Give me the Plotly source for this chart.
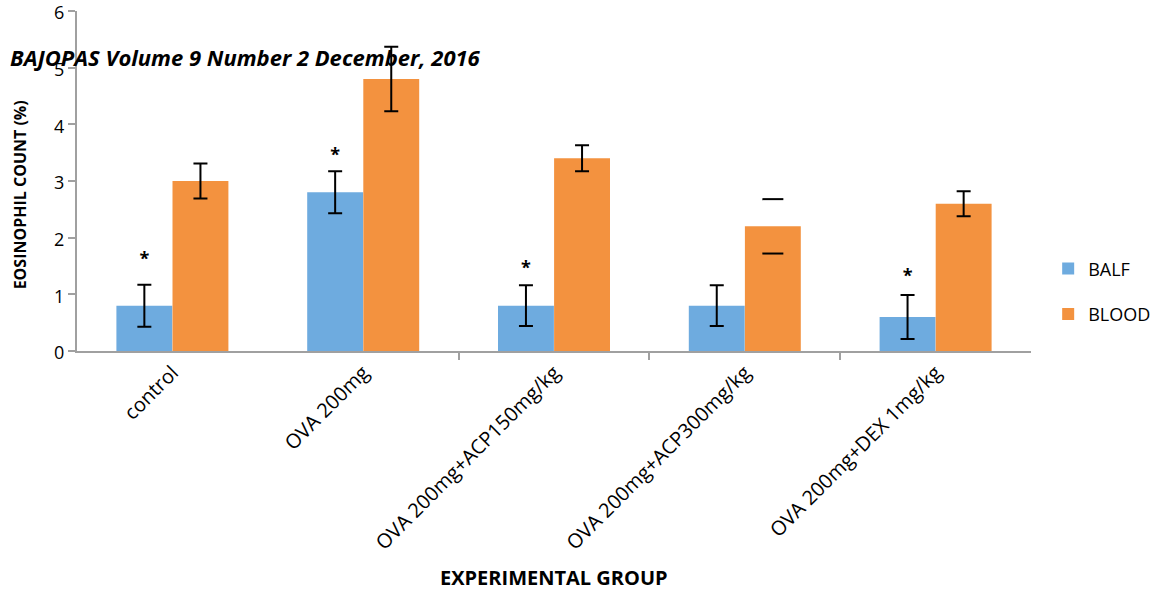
import plotly.graph_objects as go
import numpy as np

categories = ["control", "OVA 200mg", "OVA 200mg+ACP150mg/kg", "OVA 200mg+ACP300mg/kg", "OVA 200mg+DEX 1mg/kg"]
balf = [0.8, 2.8, 0.8, 0.8, 0.6]
balf_err = [0.37, 0.37, 0.36, 0.36, 0.39]
blood = [3.0, 4.8, 3.4, 2.2, 2.6]
blood_err = [0.31, 0.57, 0.23, 0.48, 0.22]
blood_stem_shown = [True, True, True, False, True]
asterisk_y = [1.6, 3.44, 1.43, None, 1.30]
y_ticks = [0, 1, 2, 3, 4, 5, 6]

BLUE = "#6EABDF"
ORANGE = "#F3923F"
FONT = "Open Sans"
idx = np.arange(len(categories))
off = 0.147
w = 0.293

fig = go.Figure()
fig.add_trace(go.Bar(
    x=idx - off, y=balf, width=w, name="BALF", marker=dict(color=BLUE, line=dict(width=0)),
    error_y=dict(type="data", array=balf_err, color="black", thickness=2, width=7),
    legendgroup="a"))
fig.add_trace(go.Bar(
    x=idx + off, y=blood, width=w, name="BLOOD", marker=dict(color=ORANGE, line=dict(width=0)),
    legendgroup="b"))

# BLOOD error bars (with stems)
sx = [i + off for i, s in zip(idx, blood_stem_shown) if s]
sy = [v for v, s in zip(blood, blood_stem_shown) if s]
se = [e for e, s in zip(blood_err, blood_stem_shown) if s]
fig.add_trace(go.Scatter(
    x=sx, y=sy, mode="markers", marker=dict(size=0.1, color="rgba(0,0,0,0)"),
    error_y=dict(type="data", array=se, color="black", thickness=2, width=7),
    showlegend=False, hoverinfo="skip"))
# BLOOD error caps without stem
cx, cy = [], []
for i, v, e, s in zip(idx, blood, blood_err, blood_stem_shown):
    if not s:
        cx += [i + off, i + off]
        cy += [v + e, v - e]
fig.add_trace(go.Scatter(
    x=cx, y=cy, mode="markers",
    marker=dict(symbol="line-ew", size=15, line=dict(color="black", width=2)),
    showlegend=False, hoverinfo="skip"))

# significance asterisks
ax = [i - off for i, a in zip(idx, asterisk_y) if a is not None]
ay = [a for a in asterisk_y if a is not None]
fig.add_trace(go.Scatter(
    x=ax, y=ay, mode="text", text=["<b>*</b>"] * len(ay), textposition="middle center",
    textfont=dict(family=FONT, size=18, color="black"),
    showlegend=False, hoverinfo="skip"))

fig.update_layout(
    width=1157, height=592,
    margin=dict(l=77, r=126, t=11, b=241, autoexpand=False),
    plot_bgcolor="white", paper_bgcolor="white",
    font=dict(family=FONT, color="black"),
    barmode="overlay",
    showlegend=True,
    legend=dict(x=1.018, y=0.296, xanchor="left", yanchor="top",
                font=dict(family=FONT, size=18, color="black"),
                tracegroupgap=19, itemwidth=30, bgcolor="rgba(0,0,0,0)"),
    xaxis=dict(range=[-0.5, 4.5], tickmode="array", tickvals=idx, ticktext=categories,
               tickangle=-45, ticks="", showline=True, linecolor="#A0A0A0", linewidth=2,
               showgrid=False, zeroline=False, automargin=False,
               tickfont=dict(family=FONT, size=20, color="black"),
               minor=dict(tickmode="array", tickvals=[1.5, 2.5, 3.5], ticks="outside",
                          ticklen=7, tickcolor="#A0A0A0", tickwidth=2, showgrid=False)),
    yaxis=dict(range=[0, 6], tickmode="array", tickvals=y_ticks, ticks="outside", ticklen=7,
               tickcolor="#A0A0A0", tickwidth=2, showline=True, linecolor="#A0A0A0", linewidth=2,
               showgrid=False, zeroline=False, ticklabeloverflow="allow", automargin=False,
               ticklabelshift=2,
               tickfont=dict(family=FONT, size=18, color="black")),
    annotations=[
        dict(text="<b><i>BAJOPAS Volume 9 Number 2 December, 2016</i></b>", xref="paper", yref="paper",
             x=-0.0723, y=0.865, xanchor="left", yanchor="middle", showarrow=False,
             font=dict(family=FONT, size=22, color="black")),
        dict(text="<b>EOSINOPHIL COUNT (%)</b>", xref="paper", yref="paper", textangle=-90,
             x=-0.06, y=0.46, xanchor="center", yanchor="middle", showarrow=False,
             font=dict(family=FONT, size=16, color="black")),
        dict(text="<b>EXPERIMENTAL GROUP</b>", xref="paper", yref="paper",
             x=0.5, y=-0.665, xanchor="center", yanchor="middle", showarrow=False,
             font=dict(family=FONT, size=20, color="black")),
    ],
)

fig.write_html("out.html", config={"displayModeBar": False},
               post_script="document.body.style.margin='0';document.body.style.overflow='hidden';")
